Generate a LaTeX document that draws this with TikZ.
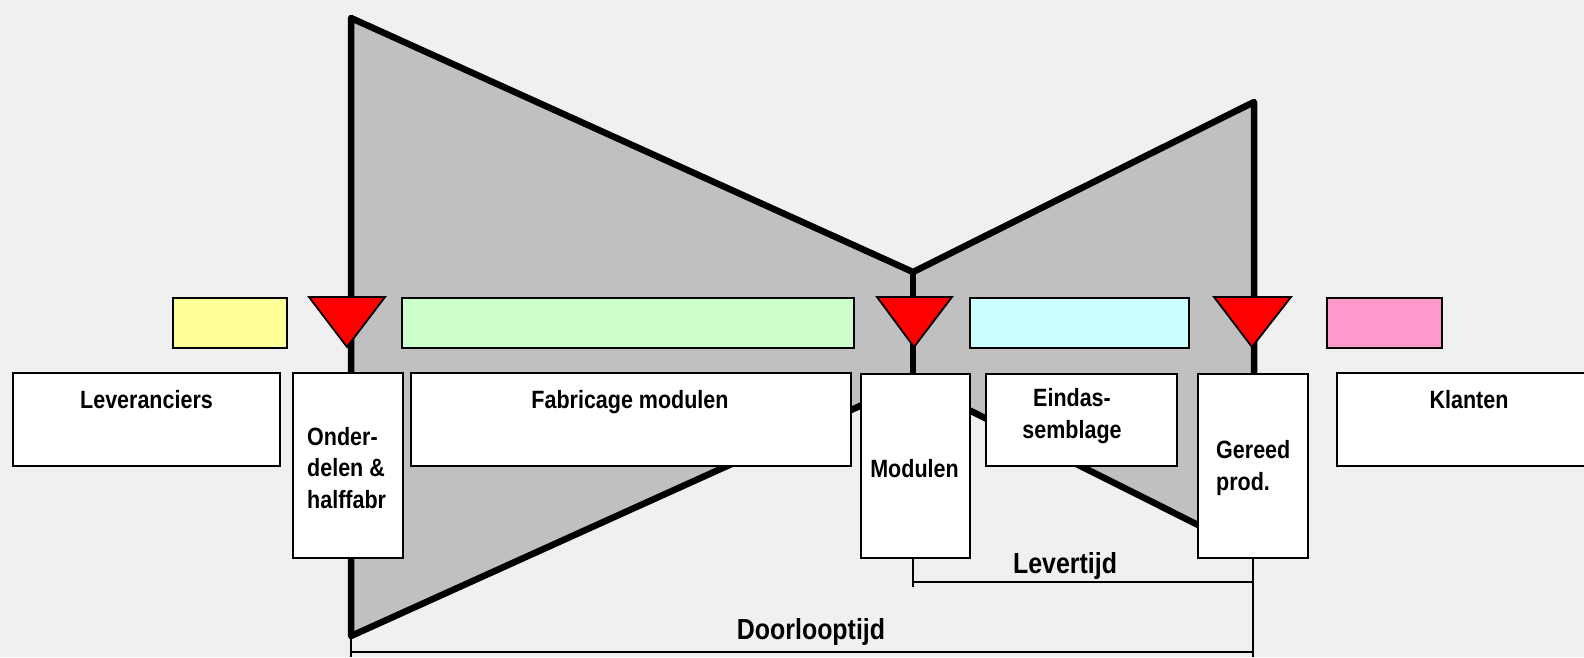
\documentclass[tikz,border=0pt]{standalone}
\usepackage{fontspec}
\setmainfont[FakeStretch=0.86]{Liberation Sans}
\definecolor{bg}{HTML}{F0F0F0}
\definecolor{gry}{HTML}{C0C0C0}
\definecolor{yel}{HTML}{FFFF99}
\definecolor{grn}{HTML}{CCFFCC}
\definecolor{cyn}{HTML}{CCFFFF}
\definecolor{pnk}{HTML}{FF99CC}
\definecolor{rd}{HTML}{FF0000}
\begin{document}
\begin{tikzpicture}[x=1pt,y=-1pt,
  box/.style={draw=black,line width=1.8pt,fill=white,inner sep=0pt},
  bar/.style={draw=black,line width=1.8pt,inner sep=0pt,minimum height=50pt},
  lbl/.style={font=\bfseries\fontsize{25}{31.5}\selectfont,inner sep=0pt},
  big/.style={font=\bfseries\fontsize{29}{34}\selectfont,inner sep=0pt},
  heavy/.style={line width=6.5pt,line join=round},
  tri/.style={fill=rd,draw=black,line width=1.8pt,line join=miter},
  dim/.style={line width=1.8pt}]
\useasboundingbox (0,0) rectangle (1584,657);
\begin{scope}
\clip (0,0) rectangle (1584,657);
\fill[bg] (0,0) rectangle (1584,657);
% bow-tie shape
\coordinate (tl) at (351,18);
\coordinate (mt) at (913,272);
\coordinate (tr) at (1254,102);
\coordinate (br) at (1254,553);
\coordinate (mb) at (913,382);
\coordinate (bl) at (351,636);
\filldraw[heavy,fill=gry] (tl) -- (mt) -- (tr) -- (br) -- (mb) -- (bl) -- cycle;
\draw[heavy] (mt) -- (mb);
% coloured bars
\node[bar,fill=yel,minimum width=114pt] (yb) at (230,323) {};
\node[bar,fill=grn,minimum width=452pt] (gb) at (628,323) {};
\node[bar,fill=cyn,minimum width=219pt] (cb) at (1079.5,323) {};
\node[bar,fill=pnk,minimum width=115pt] (pb) at (1384.5,323) {};
% stock triangles
\filldraw[tri] (309,297) -- (385,297) -- (347,347) -- cycle;
\filldraw[tri] (877,297) -- (952,297) -- (914,347) -- cycle;
\filldraw[tri] (1214,297) -- (1291,297) -- (1252,347) -- cycle;
% boxes
\node[box,minimum width=267pt,minimum height=93pt] (lev) at (146.5,419.5) {};
\node[lbl,anchor=base] (levt) at (146.5,408) {Leveranciers};
\node[box,minimum width=110pt,minimum height=185pt] (ond) at (348,465.5) {};
\node[lbl,align=left,anchor=base west] (ondt) at (307,508) {Onder-\\delen \&\\halffabr};
\node[box,minimum width=440pt,minimum height=93pt] (fab) at (631,419.5) {};
\node[lbl,anchor=base] (fabt) at (630,408) {Fabricage modulen};
\node[box,minimum width=109pt,minimum height=184pt] (mod) at (915.5,466) {};
\node[lbl,anchor=base] (modt) at (914.5,477) {Modulen};
\node[box,minimum width=191pt,minimum height=92pt] (ein) at (1081.5,420) {};
\node[lbl,anchor=base,align=center] (eint) at (1072,438) {Eindas-\\semblage};
\node[box,minimum width=110pt,minimum height=184pt] (ger) at (1253,466) {};
\node[lbl,align=left,anchor=base west] (gert) at (1216,490) {Gereed\\prod.};
\node[box,minimum width=264pt,minimum height=93pt] (kla) at (1469,419.5) {};
\node[lbl,anchor=base] (klat) at (1469,408) {Klanten};
% dimension lines
\coordinate (lv1) at (913,582);
\coordinate (lv2) at (1253,582);
\coordinate (lvt1) at (913,587);
\coordinate (dl1) at (351,652);
\coordinate (dl2) at (1253,652);
\coordinate (dlb1) at (351,657);
\coordinate (dlb2) at (1253,657);
\draw[dim] (mt |- mod.south) -- (lvt1);
\draw[dim] (lv1) -- (lv2);
\draw[dim] (ger.south) -- (dlb2);
\draw[dim] (bl) -- (dlb1);
\draw[dim] (dl1) -- (dl2);
\node[big,anchor=base] (lvt) at (1065,573) {Levertijd};
\node[big,anchor=base] (dlt) at (811,639) {Doorlooptijd};
\end{scope}
\end{tikzpicture}
\end{document}
